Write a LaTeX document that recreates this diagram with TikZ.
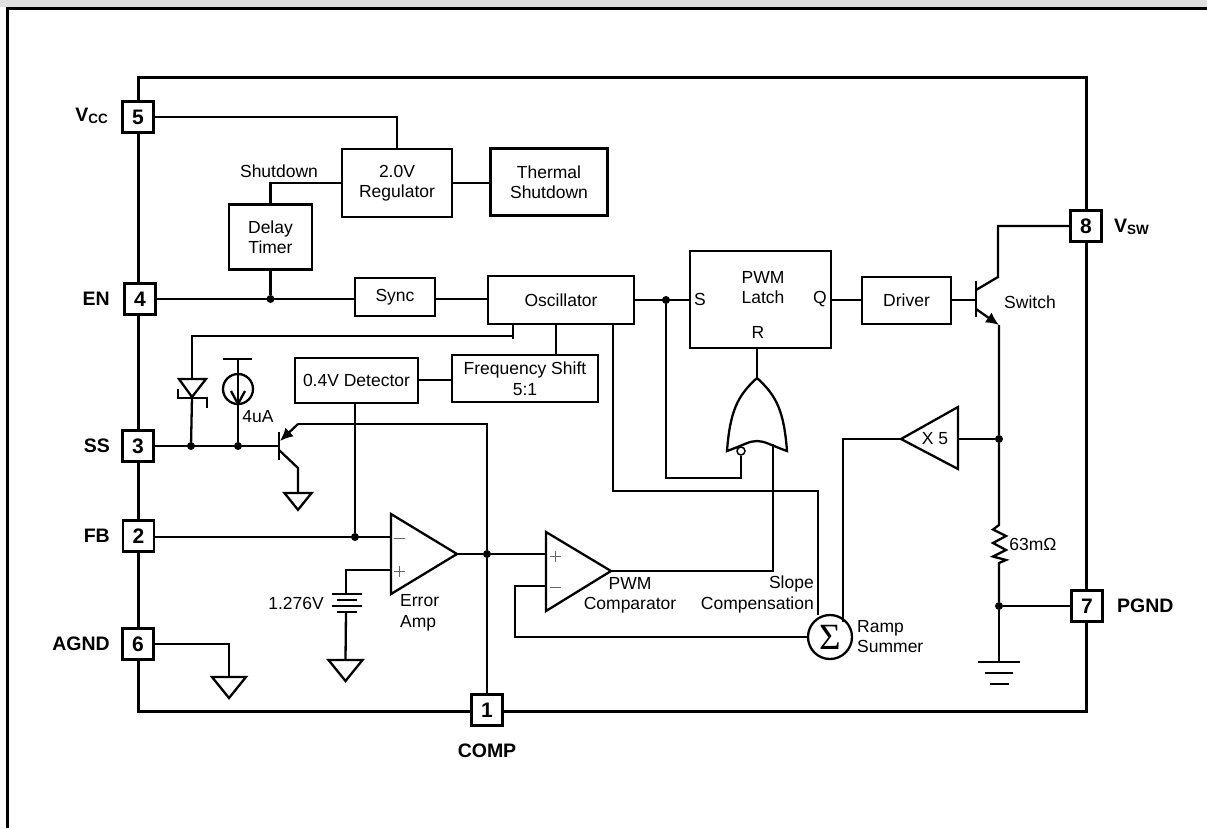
\documentclass[tikz,border=0pt]{standalone}
\usepackage{xcolor}
\usepackage{fontspec}
\usepackage{tikz}
\usetikzlibrary{arrows.meta}
\setmainfont{Liberation Sans}
\newfontfamily\sumfont{Liberation Serif}
\definecolor{bandgray}{HTML}{E0E0E0}
\newcommand{\subname}[1]{{\fontsize{13.5}{13.5}\selectfont\raisebox{-2pt}{#1}}}
\tikzset{
	wire/.style={line width=2.3pt, line join=miter},
	frameline/.style={line width=3pt},
	block/.style={draw, line width=2.3pt, fill=white, inner sep=0pt, align=center, font=\fontsize{17.5}{20.5}\selectfont},
	txt/.style={inner sep=0pt, align=center, font=\fontsize{17.5}{20.5}\selectfont},
	pinbox/.style={draw, line width=2.5pt, fill=white, inner sep=0pt, minimum size=31pt, font=\fontsize{21}{21}\selectfont\bfseries},
	pinname/.style={inner sep=0pt, font=\fontsize{19.5}{20}\selectfont\bfseries},
	junc/.style={circle, fill=black, inner sep=0pt, minimum size=8pt},
	signs/.style={line width=.7pt, black!60},
	gnd/.pic={\draw[wire] (-17,0) -- (0,21) -- (17,0) -- cycle;}
}
\begin{document}
\begin{tikzpicture}[x=1pt, y=-1pt]
\useasboundingbox (0,0) rectangle (1207,828);
\fill[bandgray] (0,0) rectangle (1207,7);
\draw[frameline] (7.5,828) -- (7.5,8.5) -- (1207,8.5);
\draw[frameline] (138,77) rectangle (1086,711);

% pins
\node[pinbox] (pin5) at (138,117) {5};
\node[pinbox] (pin4) at (140,299) {4};
\node[pinbox] (pin3) at (138,446) {3};
\node[pinbox] (pin2) at (138.5,536) {2};
\node[pinbox] (pin6) at (138,644) {6};
\node[pinbox] (pin1) at (487,710) {1};
\node[pinbox] (pin8) at (1086,226) {8};
\node[pinbox] (pin7) at (1087,606) {7};
\node[pinname, anchor=east] (vcc) at (108,116) {V\subname{CC}};
\node[pinname, anchor=east] (en) at (110,299) {EN};
\node[pinname, anchor=east] (ss) at (110,446) {SS};
\node[pinname, anchor=east] (fb) at (110,536) {FB};
\node[pinname, anchor=east] (agnd) at (110,644) {AGND};
\node[pinname] (comp) at (487,751) {COMP};
\node[pinname, anchor=west] (vsw) at (1114,227) {V\subname{SW}};
\node[pinname, anchor=west] (pgnd) at (1117,606) {PGND};

% blocks
\node[block, minimum width=110pt, minimum height=68pt] (reg) at (397,183) {2.0V\\Regulator};
\node[block, minimum width=117pt, minimum height=67pt] (therm) at (549,182) {Thermal\\Shutdown};
\node[block, minimum width=83pt, minimum height=65pt] (delay) at (270.5,237) {Delay\\Timer};
\node[block, minimum width=80pt, minimum height=38pt] (sync) at (395,297) {Sync};
\node[block, minimum width=146pt, minimum height=48pt] (osc) at (561,300) {Oscillator};
\node[block, minimum width=141pt, minimum height=97pt] (latch) at (760.5,299.5) {};
\node[block, minimum width=89pt, minimum height=47pt] (driver) at (906.5,300.5) {Driver};
\node[block, minimum width=123pt, minimum height=45pt] (det) at (356.5,380.5) {0.4V Detector};
\node[block, minimum width=146pt, minimum height=47pt] (freq) at (525,378.5) {Frequency Shift\\5:1};

\node[txt] (latchname) at (763,287.5) {PWM\\Latch};
\node[txt] (latchs) at (700,299.5) {S};
\node[txt] (latchq) at (820,299.5) {Q};
\node[txt] (latchr) at (758,332) {R};
\node[txt] (shutlabel) at (279,171) {Shutdown};
\node[txt] (switchlabel) at (1030,302) {Switch};
\node[txt] (curlabel) at (258,417) {4uA};
\node[txt] (batlabel) at (296,603) {1.276V};
\node[txt, align=left, anchor=west] (erramp) at (400,613) {Error\\Amp};
\node[txt] (pwmcomp) at (630,595.5) {PWM\\Comparator};
\node[txt, align=right, anchor=east] (slope) at (814,594.5) {Slope\\Compensation};
\node[txt, align=left, anchor=west] (ramp) at (857,636.5) {Ramp\\Summer};
\node[txt] (reslabel) at (1033,544) {63mΩ};

% power and enable
\draw[wire] (pin5) -| (reg.north);
\draw[wire] (reg.east) -- (reg.east -| therm.west);
\node[junc] (jen) at (270.5,299) {};
\draw[wire] (reg.west) -| (delay.north);
\draw[wire] (delay) -- (jen);
\draw[wire] (pin4) -- (pin4 -| sync.west);
\draw[wire] (pin4 -| sync.east) -- (pin4 -| osc.west);

% latch and switch
\node[junc] (jset) at (666,300) {};
\draw[wire] (osc.east |- jset) -- (latch.west |- jset);
\draw[wire] (latch.east |- jset) -- (driver.west |- jset);
\coordinate (qbase) at (976,300);
\coordinate (qctop) at (998,277);
\coordinate (qetop) at (999,325);
\draw[wire] (driver.east |- qbase) -- (qbase);
\draw[wire] (976,281) -- (976,317);
\draw[wire] (976,290) -- (qctop) -- (qctop |- pin8) -- (pin8);
\draw[wire, -{Latex[length=13pt,width=12pt]}] (976,309) -- (qetop);

% current sense
\node[junc] (jamp) at (999,439) {};
\node[junc] (jsense) at (999,606) {};
\coordinate (rtop) at (999,525);
\coordinate (rbot) at (999,563);
\draw[wire] (qetop) -- (jamp) -- (rtop) -- ++(-6,4.5) -- ++(13,6.5) -- ++(-13,7) -- ++(13,7) -- ++(-13,6.5) -- ++(13,3.5) -- (rbot) -- (jsense);
\coordinate (gndtop) at (999,662);
\draw[wire] (jsense) -- (pin7);
\draw[wire] (jsense) -- (gndtop);
\draw[wire] (978,662) -- (1020,662);
\draw[wire] (985,673) -- (1013,673);
\draw[wire] (990,684) -- (1009,684);

% X 5 amplifier
\coordinate (xtip) at (901,439);
\coordinate (xback) at (958,439);
\draw[wire, line join=miter] (xtip) -- (958,407) -- (958,469) -- cycle;
\node[txt] (xlabel) at (935,439) {X 5};
\draw[wire] (xback) -- (jamp);

% summer
\node[circle, draw, line width=2.3pt, fill=white, inner sep=0pt, minimum size=44pt, font=\sumfont\fontsize{37}{37}\selectfont] (sum) at (830,637) {Σ};
\coordinate (sumin) at (843,622);
\draw[wire] (xtip) -- (843,439) -- (sumin);
\coordinate (slopein) at (818,615);
\draw[wire] (613,324) -- (613,491) -- (818,491) -- (slopein);

% OR gate
\coordinate (ortip) at (757,378);
\coordinate (orleft) at (727,451);
\coordinate (orright) at (787,451);
\draw[wire] (latch.south -| ortip) -- (ortip);
\draw[wire] (orleft) .. controls (730,412) and (737,396) .. (ortip) .. controls (777,396) and (784,412) .. (orright) .. controls (770,445) and (765,441) .. (757,441) .. controls (749,441) and (744,445) .. (orleft) -- cycle;
\node[circle, draw, line width=1.5pt, fill=white, inner sep=0pt, minimum size=8pt] (orbub) at (741,451) {};
\draw[wire] (orbub) -- (741,478) -- (666,478) -- (jset);

% comparator
\coordinate (cmptip) at (611,571);
\draw[wire] (546,532) -- (cmptip) -- (546,611) -- cycle;
\draw[signs] (550,556) -- (561,556) (555.5,550.5) -- (555.5,561.5);
\draw[signs] (550,587) -- (561,587);
\draw[wire] (cmptip) -- (773,571) -- (773,444);
\node[junc] (jerr) at (487,554) {};
\draw[wire] (jerr) -- (546,554);
\draw[wire] (546,586) -- (515,586) -- (515,637) -- (sum);

% error amp
\coordinate (errtip) at (457,554);
\draw[wire] (391,514) -- (errtip) -- (391,594) -- cycle;
\draw[signs] (394,538) -- (405,538);
\draw[signs] (394,571) -- (405,571) (399.5,565.5) -- (399.5,576.5);
\draw[wire] (errtip) -- (jerr);
\node[junc] (jfb) at (355,537) {};
\draw[wire] (pin2.east |- jfb) -- (391,537);
\draw[wire] (det.south -| jfb) -- (jfb);
\draw[wire] (freq.west |- 0,380) -- (det.east |- 0,380);
\draw[wire] (freq.north -| 556,0) -- (osc.south -| 556,0);
\draw[wire] (391,570) -- (346,570) -- (346,594);
\draw[wire] (332,594) -- (362,594);
\draw[wire] (337,600) -- (357,600);
\draw[wire] (332,606) -- (362,606);
\draw[wire] (337,612) -- (357,612);
\coordinate (batgnd) at (345.5,660);
\draw[wire] (346,612) -- (batgnd);
\pic at (batgnd) {gnd};

% agnd
\coordinate (agndgnd) at (229,677);
\draw[wire] (pin6) -| (agndgnd);
\pic at (agndgnd) {gnd};

% soft start
\node[junc] (jzen) at (191,446) {};
\node[junc] (jcur) at (238,446) {};
\coordinate (ssbase) at (279,446);
\draw[wire] (pin3) -- (ssbase);
\draw[wire] (279,432) -- (279,460);
\coordinate (ssemit) at (298,424);
\draw[wire, -{Latex[length=13pt,width=12pt]}] (ssemit) -- (280,441);
\draw[wire] (jerr) -- (487,424) -- (ssemit);
\draw[wire] (jerr) -- (pin1);
\coordinate (sscoll) at (298,468);
\coordinate (ssgnd) at (298,493);
\draw[wire] (279,450) -- (sscoll) -- (ssgnd);
\pic[scale=.8] at (ssgnd) {gnd};

\coordinate (oscdrop) at (513,339);
\draw[wire] (osc.south -| oscdrop) -- (oscdrop);
\coordinate (zencorner) at (192,336);
\draw[wire] (513,336) -- (zencorner) -- (192,379);
\draw[wire] (179,379) -- (206,379) -- (192,397) -- cycle;
\draw[wire] (192,397) -- (jzen);
\draw[wire] (178,389) -- (178,398) -- (207,398) -- (207,408);

\node[circle, draw, line width=2.3pt, inner sep=0pt, minimum size=30pt] (cursrc) at (238,389) {};
\draw[wire] (223,359) -- (252,359);
\draw[wire] (238,359) -- (cursrc.north);
\draw[wire] (cursrc.north) -- (cursrc.south);
\draw[wire] (231,391) -- (238,404) -- (245,391);
\draw[wire] (cursrc.south) -- (jcur);
\end{tikzpicture}
\end{document}
